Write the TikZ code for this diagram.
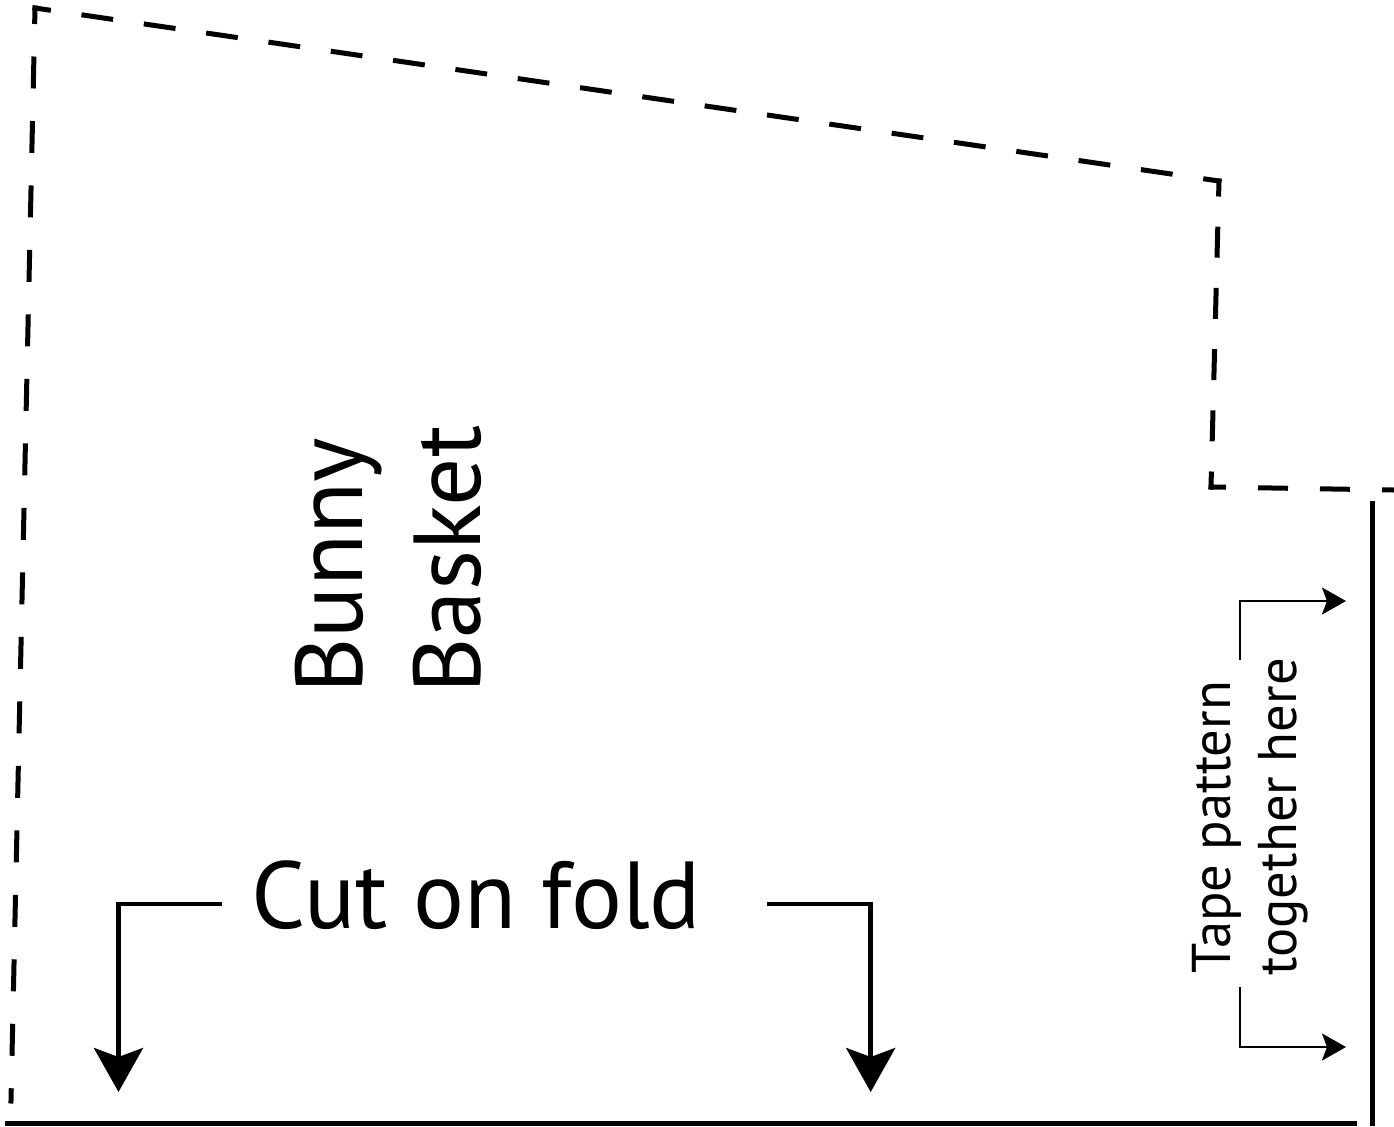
\documentclass[tikz,border=0pt]{standalone}
\usepackage{fontspec}
\setmainfont{PT Sans}
\usetikzlibrary{arrows.meta}

\begin{document}
\begin{tikzpicture}[x=0.5pt,y=0.5pt,yscale=-1,xscale=1,
  cutedge/.style={line width=2.5pt, line cap=rect},
  foldarrow/.style={line width=2.25pt, -{Stealth[length=22pt, width=24.5pt, inset=4.5pt]}},
  tapearrow/.style={line width=1.2pt, -{Stealth[length=12pt, width=13.5pt, inset=2.5pt]}},
  bigtext/.style={font=\fontsize{47.6}{56}\selectfont, inner sep=0pt},
  smalltext/.style={font=\fontsize{27.3}{32}\selectfont, inner sep=0pt}]
\useasboundingbox (0,0) rectangle (1394,1126);

%Shape: Dashed cut line, left side
\draw [cutedge, dash pattern=on 13.5pt off 18.75pt, dash phase=6.75pt] (35,8) -- (11,1101) ;
%Shape: Dashed cut line, top side
\draw [cutedge, dash pattern=on 13.5pt off 17.99pt, dash phase=6.75pt] (35,8) -- (1219,181) ;
%Shape: Dashed cut line, right side
\draw [cutedge, dash pattern=on 13pt off 17.61pt, dash phase=6.5pt] (1219,181) -- (1211,487) ;
%Shape: Dashed cut line, step
\draw [cutedge, dash pattern=on 12.5pt off 18.5pt, dash phase=6.25pt] (1211,487) -- (1394,490) ;

%Straight Lines: fold edge
\draw [line width=2.5pt] (5,1123) -- (1357,1123) ;
%Straight Lines: tape edge
\draw [line width=2.5pt] (1372.5,501) -- (1372.5,1126) ;

% Text Node
\draw (251,928) node (cut) [bigtext, anchor=base west] {Cut on fold};
% Text Node
\draw (362,694) node (bunny) [bigtext, rotate=90, anchor=base west] {Bunny};
% Text Node
\draw (480,694) node (basket) [bigtext, rotate=90, anchor=base west] {Basket};
% Text Node
\draw (1230,974) node (tape) [smalltext, rotate=90, anchor=base west] {Tape pattern};
% Text Node
\draw (1296,976) node (together) [smalltext, rotate=90, anchor=base west] {together here};

%Arrows to the fold
\coordinate (lfoldstart) at (222,904);
\coordinate (lfoldtip) at (118.5,1092);
\coordinate (rfoldstart) at (767,904);
\coordinate (rfoldtip) at (870.7,1092);
\draw [foldarrow] (lfoldstart) -| (lfoldtip) ;
\draw [foldarrow] (rfoldstart) -| (rfoldtip) ;

%Arrows to the tape edge
\coordinate (utapestart) at (1240,660);
\coordinate (utapetip) at (1346,601);
\coordinate (ltapestart) at (1240,987);
\coordinate (ltapetip) at (1346,1047);
\draw [tapearrow] (utapestart) |- (utapetip) ;
\draw [tapearrow] (ltapestart) |- (ltapetip) ;

\end{tikzpicture}
\end{document}
